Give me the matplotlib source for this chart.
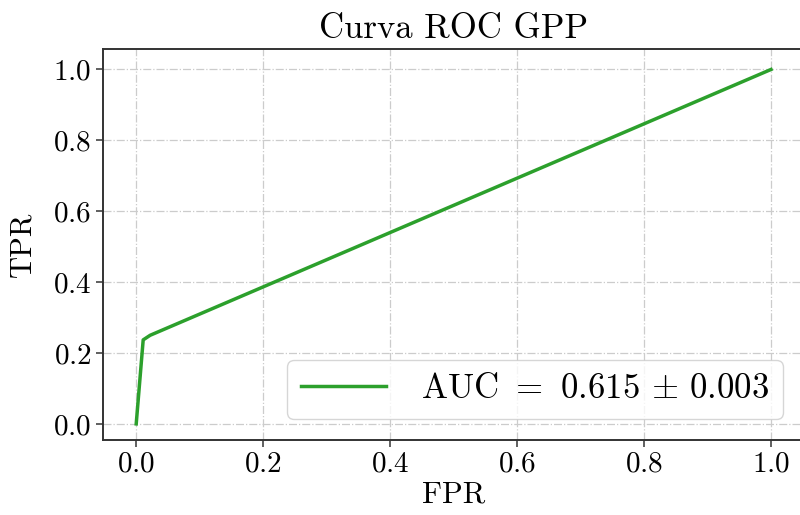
import matplotlib
matplotlib.use('Agg')
import matplotlib.pyplot as plt

plt.rcParams['font.family'] = 'serif'
plt.rcParams['font.serif'] = ['cmr10']
plt.rcParams['mathtext.fontset'] = 'cm'
plt.rcParams['axes.formatter.use_mathtext'] = True

# ROC curve points
fpr = [0.0, 0.011, 0.022, 1.0]
tpr = [0.0, 0.237, 0.250, 1.0]
auc_mean = 0.615
auc_std = 0.003

fig = plt.figure(figsize=(8, 5.15), dpi=100)
ax = fig.add_axes([0.129, 0.146, 0.876, 0.759])

ax.plot(fpr, tpr, color='#2ca02c', linewidth=2.5,
        label=r'AUC $=$ %.3f $\pm$ %.3f' % (auc_mean, auc_std))

ax.set_xlim(-0.052, 1.052)
ax.set_ylim(-0.045, 1.058)
ax.set_xticks([0, 0.2, 0.4, 0.6, 0.8, 1.0])
ax.set_yticks([0, 0.2, 0.4, 0.6, 0.8, 1.0])
ax.tick_params(labelsize=21, length=5, width=1.2, color='#444444')
for s in ax.spines.values():
    s.set_linewidth(1.4)
    s.set_color('#333333')
ax.grid(True, linestyle='-.', color='#cccccc', linewidth=0.9)

ax.set_title('Curva ROC GPP', fontsize=25, pad=8)
ax.set_xlabel('FPR', fontsize=22, labelpad=2)
ax.set_ylabel('TPR', fontsize=22, labelpad=12)
ax.legend(loc='lower right', fontsize=25, handlelength=2.45,
          handletextpad=1.0, borderaxespad=0.6)

fig.savefig('out.png', dpi=100)
